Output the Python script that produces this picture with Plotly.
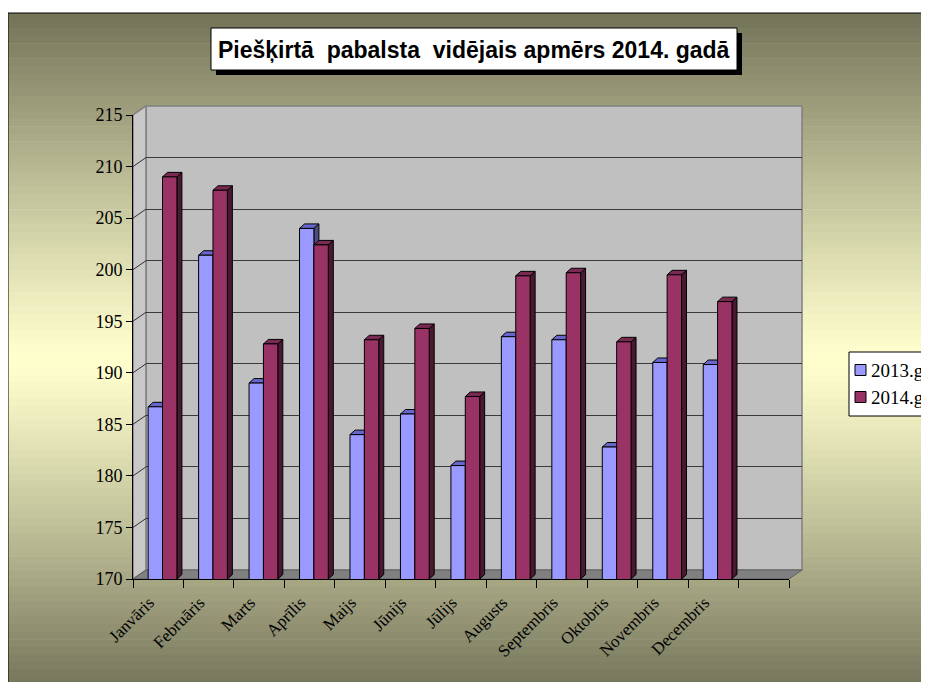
import numpy as np
import plotly.graph_objects as go

# ---------------- data ----------------
months = ["Janvāris", "Februāris", "Marts", "Aprīlis", "Maijs", "Jūnijs",
          "Jūlijs", "Augusts", "Septembris", "Oktobris", "Novembris", "Decembris"]
vals_2013 = [186.7, 201.4, 189.0, 204.0, 184.0, 186.0, 181.0, 193.5, 193.2, 182.8, 191.0, 190.8]
vals_2014 = [209.0, 207.7, 192.8, 202.4, 193.2, 194.3, 187.7, 199.4, 199.7, 193.0, 199.5, 196.9]
series_names = ["2013.g.", "2014.g."]
y_ticks = [170, 175, 180, 185, 190, 195, 200, 205, 210, 215]
title_text = "Piešķirtā  pabalsta  vidējais apmērs 2014. gadā"

# ---------------- geometry (screen pixels, page has 8px body margin) ----------------
OFF = 8
SW, SH = 929, 682                 # browser window
W, H = SW, SH                     # figure size
PL, PR, PT, PB = 133, 802, 106, 579          # whole plotting region (front + depth), screen px
PW, PH = PR - PL, PB - PT
DX, DY = 13, 9                               # wall depth offset
FW, FH = PW - DX, PH - DY                    # front axis size


def px(x):
    return (x - PL) / PW


def py(y):
    return (PB - y) / PH


colors_front = ["#9999FF", "#993366"]
colors_top = ["#6666CC", "#7A2952"]
colors_side = ["#4C4C80", "#4A1931"]
bar_w = 0.285
shift = 0.085
offsets = [shift - bar_w, shift]
ymin, ymax = y_ticks[0], y_ticks[-1]
ncat = len(months) + 1                        # one empty slot at the end
depth_x = 5 / (FW / ncat)
depth_y = 4.5 / (FH / (ymax - ymin))

xpos = np.arange(len(months))

fig = go.Figure()

# dummy trace to create the back-wall subplot (xy)
fig.add_trace(go.Scatter(x=[0.5], y=[190], xaxis="x", yaxis="y", mode="markers",
                         marker=dict(opacity=0), showlegend=False, hoverinfo="skip"))

for k, vals in enumerate([vals_2013, vals_2014]):
    fig.add_trace(go.Bar(
        x=xpos, y=vals, name=series_names[k], xaxis="x2", yaxis="y2",
        offset=offsets[k], width=bar_w, showlegend=False,
        marker=dict(color=colors_front[k], line=dict(color="black", width=1)),
    ))

shapes = []

# background gradient
top_c = np.array([114, 114, 88])
light_c = np.array([255, 255, 206])
y0f, y1f = 13, SH + 10
yc = 360
N = 90
for i in range(N):
    a = y0f + (y1f - y0f) * i / N
    b = y0f + (y1f - y0f) * (i + 1) / N
    m = (a + b) / 2
    if m < yc:
        t = (yc - m) / (yc - y0f)
    else:
        t = (m - yc) / (y1f - yc)
    t = min(1.0, t) ** 1.15
    c = light_c + (top_c - light_c) * t
    col = "rgb(%d,%d,%d)" % tuple(int(round(v)) for v in c)
    shapes.append(dict(type="rect", xref="paper", yref="paper", layer="below",
                       x0=px(8), x1=px(SW + 20), y0=py(b + 0.6), y1=py(a),
                       fillcolor=col, line=dict(width=0)))
# outer frame
shapes.append(dict(type="rect", xref="paper", yref="paper", layer="below",
                   x0=px(8), x1=px(SW + 20), y0=py(SH + 20), y1=py(13),
                   fillcolor="rgba(0,0,0,0)", line=dict(color="black", width=1)))

# back wall
shapes.append(dict(type="rect", xref="paper", yref="paper", layer="below",
                   x0=px(PL + DX), x1=px(PR), y0=py(PB - DY), y1=py(PT),
                   fillcolor="#C0C0C0", line=dict(color="#808080", width=1.5)))
# left wall
shapes.append(dict(type="path", xref="paper", yref="paper", layer="below",
                   path="M %f,%f L %f,%f L %f,%f L %f,%f Z" % (
                       px(PL), py(PB), px(PL), py(PB - FH), px(PL + DX), py(PT),
                       px(PL + DX), py(PB - DY)),
                   fillcolor="#C8C8C8", line=dict(color="#808080", width=1.5)))
# floor
shapes.append(dict(type="path", xref="paper", yref="paper", layer="below",
                   path="M %f,%f L %f,%f L %f,%f L %f,%f Z" % (
                       px(PL), py(PB), px(PL + FW), py(PB), px(PR), py(PB - DY),
                       px(PL + DX), py(PB - DY)),
                   fillcolor="#808080", line=dict(color="#606060", width=1)))
# diagonal tick lines on left wall
dyu = DY / (FH / (ymax - ymin))
for v in y_ticks[1:]:
    shapes.append(dict(type="line", xref="paper", yref="y2", layer="below",
                       x0=px(PL), x1=px(PL + DX), y0=v, y1=v + dyu,
                       line=dict(color="#303030", width=1)))

# 3D faces of bars
for k, vals in enumerate([vals_2013, vals_2014]):
    for i, v in enumerate(vals):
        xl = xpos[i] + offsets[k]
        xr = xl + bar_w
        shapes.append(dict(type="path", xref="x2", yref="y2", layer="between",
                           path="M %f,%f L %f,%f L %f,%f L %f,%f Z" % (
                               xr, ymin, xr + depth_x, ymin + depth_y,
                               xr + depth_x, v + depth_y, xr, v),
                           fillcolor=colors_side[k], line=dict(color="black", width=1)))
        shapes.append(dict(type="path", xref="x2", yref="y2", layer="between",
                           path="M %f,%f L %f,%f L %f,%f L %f,%f Z" % (
                               xl, v, xr, v, xr + depth_x, v + depth_y,
                               xl + depth_x, v + depth_y),
                           fillcolor=colors_top[k], line=dict(color="black", width=1)))

# title box with shadow
tb = (211, 28, 737, 70)
shapes.append(dict(type="rect", xref="paper", yref="paper", layer="above",
                   x0=px(tb[0] + 5), x1=px(tb[2] + 5), y0=py(tb[3] + 5), y1=py(tb[1] + 5),
                   fillcolor="black", line=dict(width=0)))
shapes.append(dict(type="rect", xref="paper", yref="paper", layer="above",
                   x0=px(tb[0]), x1=px(tb[2]), y0=py(tb[3]), y1=py(tb[1]),
                   fillcolor="white", line=dict(color="black", width=1)))

fig.add_annotation(text=title_text.replace("  ", " \u00a0"), xref="paper", yref="paper",
                   x=px((tb[0] + tb[2]) / 2), y=py((tb[1] + tb[3]) / 2 + 1),
                   xanchor="center", yanchor="middle", showarrow=False,
                   font=dict(family="Liberation Sans", size=23, color="black", weight="bold"))

# legend (box runs past the right edge of the window, as in the original)
lb = (849, 352, SW + 40, 416)
shapes.append(dict(type="rect", xref="paper", yref="paper", layer="above",
                   x0=px(lb[0]), x1=px(lb[2]), y0=py(lb[3]), y1=py(lb[1]),
                   fillcolor="white", line=dict(color="black", width=1)))
item_y = [370, 397]
for k, name in enumerate(series_names):
    yc_ = item_y[k]
    shapes.append(dict(type="rect", xref="paper", yref="paper", layer="above",
                       x0=px(855), x1=px(866), y0=py(yc_ + 5.5), y1=py(yc_ - 5.5),
                       fillcolor=colors_front[k], line=dict(color="black", width=1)))
    fig.add_annotation(text=name, xref="paper", yref="paper",
                       x=px(869), y=py(yc_), xanchor="left", yanchor="middle",
                       showarrow=False,
                       font=dict(family="Liberation Serif", size=19, color="black"))

fig.update_layout(
    width=W, height=H,
    margin=dict(l=PL - OFF, r=W - (PR - OFF), t=PT - OFF, b=H - (PB - OFF), autoexpand=False),
    paper_bgcolor="white", plot_bgcolor="rgba(0,0,0,0)",
    barmode="overlay",
    showlegend=False,
    shapes=shapes,
    # back wall axes
    xaxis=dict(domain=[DX / PW, 1], range=[0, 1], visible=False, anchor="y"),
    yaxis=dict(domain=[DY / PH, 1], range=[ymin, ymax], anchor="x",
               tickvals=y_ticks, showticklabels=False, ticks="",
               showgrid=True, gridcolor="#3A3A3A", gridwidth=1.3,
               zeroline=False, showline=False),
    # front axes
    xaxis2=dict(domain=[0, FW / PW], range=[-0.5, ncat - 0.5], anchor="y2",
                tickmode="array", tickvals=xpos, ticktext=months, ticks="",
                tickangle=-45, tickfont=dict(family="Liberation Serif", size=17, color="black"),
                ticklabelshift=-9, ticklabelstandoff=6,
                showline=True, linecolor="black", linewidth=1,
                showgrid=False, zeroline=False,
                minor=dict(tickmode="array", tickvals=np.arange(ncat + 1) - 0.5,
                           ticks="outside", ticklen=8, tickcolor="black", tickwidth=1,
                           showgrid=False)),
    yaxis2=dict(domain=[0, FH / PH], range=[ymin, ymax], anchor="x2",
                tickmode="array", tickvals=y_ticks, ticks="outside", ticklen=6,
                tickcolor="black", showline=True, linecolor="black", linewidth=1,
                showgrid=False, zeroline=False,
                tickfont=dict(family="Liberation Serif", size=18, color="black")),
)

fig.write_html("out.html")
